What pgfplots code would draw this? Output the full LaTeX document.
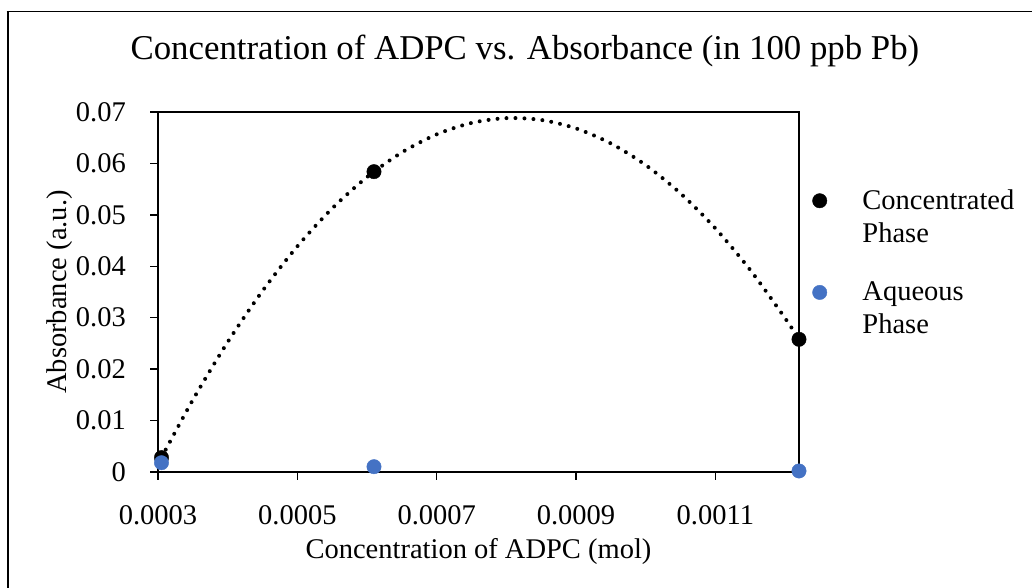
\documentclass[border=0pt]{standalone}
\usepackage{fontspec}
\setmainfont{Liberation Serif}
\usepackage{pgfplots}
\pgfplotsset{compat=1.18}
\definecolor{excelblue}{HTML}{4472C4}
\newcommand{\lblfont}{\fontsize{28.5bp}{33bp}\selectfont}
\newcommand{\ttlfont}{\fontsize{34.8bp}{40bp}\selectfont}
\begin{document}
\begin{tikzpicture}[x=1bp,y=1bp]
\useasboundingbox (0,0) rectangle (1032,588);
\draw[line width=1.3bp] (6.5,576.5) -- (1032,576.5);
\draw[line width=2bp] (7.5,577.1) -- (7.5,0);
\begin{axis}[
  at={(158bp,116bp)}, anchor=south west,
  width=641bp, height=360bp, scale only axis,
  xmin=0.0003, xmax=0.00122, ymin=0, ymax=0.07,
  xtick={0.0003,0.0005,0.0007,0.0009,0.0011},
  xticklabels={0.0003,0.0005,0.0007,0.0009,0.0011},
  ytick={0,0.01,0.02,0.03,0.04,0.05,0.06,0.07},
  yticklabels={0,0.01,0.02,0.03,0.04,0.05,0.06,0.07},
  scaled x ticks=false, scaled y ticks=false,
  xtick pos=left, ytick pos=left,
  tick align=outside, major tick length=8bp,
  axis line style={line width=1.5bp, black},
  tick style={line width=1.5bp, black},
  xticklabel style={font=\lblfont, anchor=base, inner sep=0pt, yshift=-45bp},
  yticklabel style={font=\lblfont, anchor=east, inner sep=0pt, xshift=-24bp},
  title={Concentration of ADPC vs. Absorbance (in 100 ppb Pb)},
  title style={font=\ttlfont, at={(axis description cs:0.5725,1.128)}, anchor=base, inner sep=0pt},
  xlabel={Concentration of ADPC (mol)},
  xlabel style={font=\lblfont, at={(axis description cs:0.5,-0.2389)}, anchor=base, inner sep=0pt},
  ylabel={Absorbance (a.u.)},
  ylabel style={font=\lblfont, at={(axis description cs:-0.1435,0.5)}, anchor=base, inner sep=0pt},
  clip=false,
  legend style={draw=none, fill=none, inner sep=0pt, outer sep=0pt,
    at={(axis description cs:1.0211,0.7947)}, anchor=north west,
    nodes={inner sep=0pt, font=\lblfont}, column sep=35.5bp, row sep=51bp},
  legend cell align=left,
  legend image code/.code={%
    \draw[#1] plot coordinates {(0bp,5.5bp)};
    \path[draw=none, fill=none] (-6.5bp,-16.5bp) rectangle (6.5bp,16.5bp);
  },
]
\addplot[only marks, mark=*, mark size=7.2bp, mark options={draw=black, fill=black}]
  coordinates {(0.000305,0.0028) (0.00061,0.0584) (0.00122,0.0258)};
\addlegendentry{\begin{tabular}{@{}l@{}}Concentrated\\Phase\end{tabular}}
\addplot[forget plot, black, line width=4bp, line cap=round, dash pattern=on 0bp off 9bp, smooth]
  coordinates {
  (0.000305,0.00280) (0.00035,0.01402) (0.00040,0.02526) (0.00045,0.03521)
  (0.00050,0.04388) (0.00055,0.05125) (0.00060,0.05734) (0.00065,0.06214)
  (0.00070,0.06565) (0.00075,0.06787) (0.00080,0.06881) (0.00085,0.06845)
  (0.00090,0.06681) (0.00095,0.06388) (0.00100,0.05967) (0.00105,0.05416)
  (0.00110,0.04737) (0.00115,0.03928) (0.00120,0.02991) (0.00122,0.02580)
  };
\addplot[only marks, mark=*, mark size=7.2bp, mark options={draw=excelblue, fill=excelblue}]
  coordinates {(0.000305,0.0018) (0.00061,0.00103) (0.00122,0.0002)};
\addlegendentry{\begin{tabular}{@{}l@{}}Aqueous\\Phase\end{tabular}}
\end{axis}
\end{tikzpicture}
\end{document}
